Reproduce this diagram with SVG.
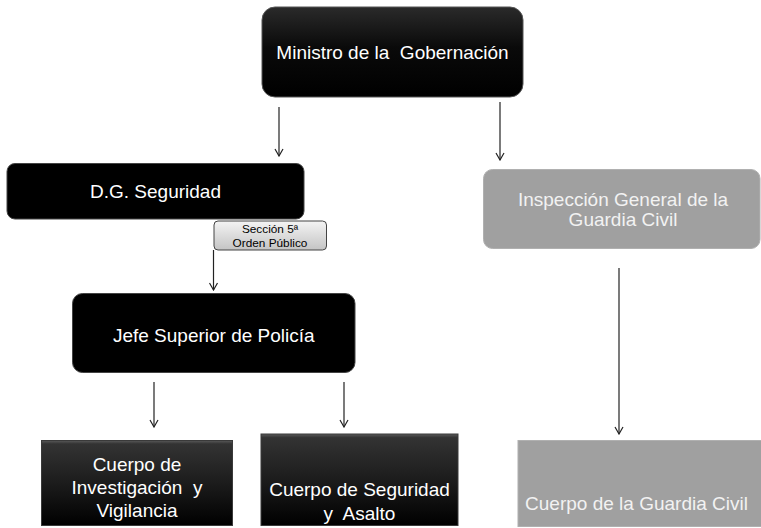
<svg xmlns="http://www.w3.org/2000/svg" width="761" height="528" viewBox="0 0 761 528">
<style>
text{font-family:"Liberation Sans",Arial,sans-serif;font-size:19px;text-anchor:middle;white-space:pre}
.w{fill:#ffffff}
.g{fill:#f2f2f2}
.lbl{font-size:11.8px;fill:#000}
.conn line{stroke:#222;stroke-width:1.2;fill:none;marker-end:url(#ah)}
.gray{fill:#a0a0a0;stroke:#b0b0b0;stroke-width:1}
</style>
<defs>
<linearGradient id="topg" x1="0" y1="0" x2="0" y2="1">
<stop offset="0" stop-color="#2a2a2a"/>
<stop offset="0.45" stop-color="#0a0a0a"/>
<stop offset="1" stop-color="#000"/>
</linearGradient>
<linearGradient id="botg" x1="0" y1="0" x2="0" y2="1">
<stop offset="0" stop-color="#5a5a5a"/>
<stop offset="0.04" stop-color="#333"/>
<stop offset="0.5" stop-color="#1c1c1c"/>
<stop offset="1" stop-color="#000"/>
</linearGradient>
<linearGradient id="secg" x1="0" y1="0" x2="0" y2="1">
<stop offset="0" stop-color="#f4f4f4"/>
<stop offset="1" stop-color="#c4c4c4"/>
</linearGradient>
<marker id="ah" viewBox="0 0 10 10" refX="9" refY="5" markerWidth="10" markerHeight="10" markerUnits="userSpaceOnUse" orient="auto">
<path d="M2,1 L9,5 L2,9" fill="none" stroke="#222" stroke-width="1.2"/>
</marker>
</defs>
<g class="conn" id="connectors">
<line x1="279" y1="107" x2="279" y2="156"/>
<line x1="500" y1="102" x2="500" y2="160"/>
<line x1="213.5" y1="250" x2="213.5" y2="290"/>
<line x1="154" y1="382" x2="154" y2="427"/>
<line x1="344" y1="382" x2="344" y2="427"/>
<line x1="619" y1="268" x2="619" y2="434"/>
</g>
<g id="n-ministro">
<rect x="262" y="7" width="261" height="90" rx="13" fill="url(#topg)" stroke="#555" stroke-width="1"/>
<text class="w" x="392.5" y="59">Ministro de la  Gobernación</text>
</g>
<g id="n-dg">
<rect x="7" y="163.5" width="297" height="55.5" rx="8" fill="#000" stroke="#444" stroke-width="1"/>
<text class="w" x="155.5" y="197.5">D.G. Seguridad</text>
</g>
<g id="n-seccion">
<rect x="214" y="221" width="112.5" height="29" rx="4" fill="url(#secg)" stroke="#444" stroke-width="1"/>
<text class="lbl" x="270" y="233">Sección 5ª</text>
<text class="lbl" x="270" y="247">Orden Público</text>
</g>
<g id="n-inspeccion">
<rect class="gray" x="483.5" y="169.5" width="276.5" height="79" rx="9"/>
<text class="g" x="623" y="206">Inspección General de la</text>
<text class="g" x="623" y="226">Guardia Civil</text>
</g>
<g id="n-jefe">
<rect x="72.5" y="293.5" width="282.5" height="79" rx="10" fill="#000" stroke="#444" stroke-width="1"/>
<text class="w" x="213.8" y="341.5">Jefe Superior de Policía</text>
</g>
<g id="n-investigacion">
<rect x="41.5" y="440.5" width="191" height="85" fill="url(#botg)" stroke="#3a3a3a" stroke-width="1"/>
<text class="w" x="137" y="470.5">Cuerpo de</text>
<text class="w" x="137" y="494">Investigación  y</text>
<text class="w" x="137" y="517">Vigilancia</text>
</g>
<g id="n-seguridad">
<rect x="261" y="434" width="197" height="91.5" fill="url(#botg)" stroke="#3a3a3a" stroke-width="1"/>
<text class="w" x="359.5" y="496">Cuerpo de Seguridad</text>
<text class="w" x="359.5" y="520">y  Asalto</text>
</g>
<g id="n-guardia">
<rect class="gray" x="518" y="440.5" width="250" height="86"/>
<text class="g" x="636.5" y="510">Cuerpo de la Guardia Civil</text>
</g>
</svg>
